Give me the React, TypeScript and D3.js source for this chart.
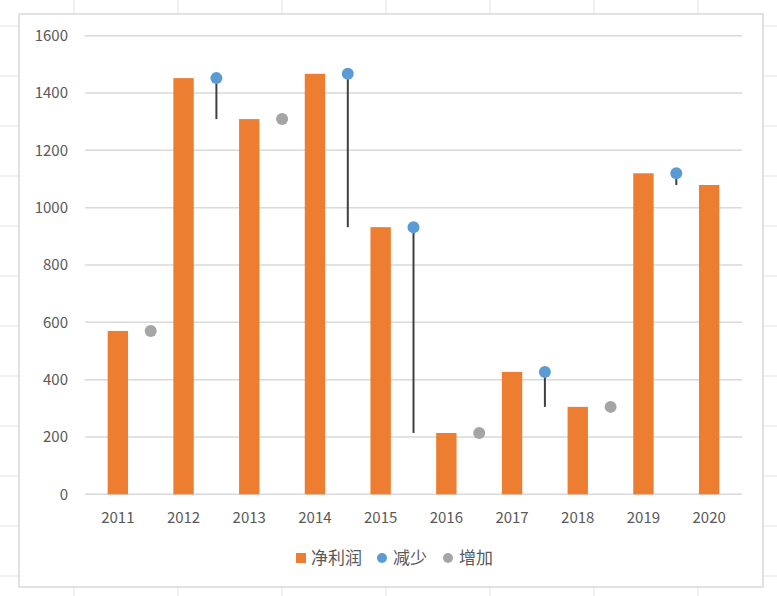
import React from "react";
import * as d3 from "d3";

const years = ["2011", "2012", "2013", "2014", "2015", "2016", "2017", "2018", "2019", "2020"];
const profit = [570, 1452, 1309, 1467, 932, 214, 427, 305, 1120, 1079];
const yTicks = [0, 200, 400, 600, 800, 1000, 1200, 1400, 1600];
const legendNames = ["净利润", "减少", "增加"];

const W = 777;
const H = 596;
const FONT = "'Noto Sans CJK SC', 'Noto Sans', sans-serif";

const App = () => {
  const x = d3.scaleBand().domain(years).range([85, 742]).paddingInner(0).paddingOuter(0);
  const y = d3.scaleLinear().domain([0, 1600]).range([494.3, 35.7]);
  const barW = x.bandwidth() * 0.31;

  // change markers sit on the boundary between one year and the next
  const steps = profit.slice(0, -1).map((v, i) => ({
    from: v,
    to: profit[i + 1],
    down: profit[i + 1] < v,
    cx: (x(years[i]) as number) + x.bandwidth(),
  }));

  // spreadsheet cells behind the chart
  const colLines = d3.range(74, W, 104);
  const rowLines = d3.range(26, H, 50);

  return (
    <svg width={W} height={H} style={{ position: "absolute", left: 0, top: 0, background: "#fff" }}>
      {colLines.map((cx) => (
        <line key={"c" + cx} x1={cx} x2={cx} y1={0} y2={H} stroke="#e3e3e3" />
      ))}
      {rowLines.map((ry) => (
        <line key={"r" + ry} x1={0} x2={W} y1={ry} y2={ry} stroke="#e3e3e3" />
      ))}
      <rect x={19} y={14} width={744} height={573} fill="#fff" stroke="#d9d9d9" strokeWidth={1.5} />

      {yTicks.map((t) => (
        <g key={t}>
          <line x1={85} x2={742} y1={y(t)} y2={y(t)} stroke="#d9d9d9" strokeWidth={1.5} />
          <text x={68} y={y(t)} dy="0.35em" textAnchor="end" fontSize={15} fill="#595959" fontFamily={FONT}>
            {t}
          </text>
        </g>
      ))}

      {years.map((yr, i) => (
        <g key={yr}>
          <rect
            x={(x(yr) as number) + x.bandwidth() / 2 - barW / 2}
            y={y(profit[i])}
            width={barW}
            height={y(0) - y(profit[i])}
            fill="#ED7D31"
          />
          <text
            x={(x(yr) as number) + x.bandwidth() / 2}
            y={518}
            dy="0.35em"
            textAnchor="middle"
            fontSize={15}
            fill="#595959"
            fontFamily={FONT}
          >
            {yr}
          </text>
        </g>
      ))}

      {steps.map((s, i) =>
        s.down ? (
          <g key={i}>
            <line x1={s.cx} x2={s.cx} y1={y(s.from)} y2={y(s.to)} stroke="#404040" strokeWidth={2} />
            <circle cx={s.cx} cy={y(s.from)} r={6} fill="#5B9BD5" />
          </g>
        ) : (
          <circle key={i} cx={s.cx} cy={y(s.from)} r={6} fill="#A5A5A5" />
        )
      )}

      <g fontFamily={FONT} fontSize={17} fill="#595959">
        <rect x={296} y={553} width={10} height={10} fill="#ED7D31" />
        <text x={311} y={558} dy="0.35em">{legendNames[0]}</text>
        <circle cx={382} cy={558} r={5} fill="#5B9BD5" />
        <text x={393} y={558} dy="0.35em">{legendNames[1]}</text>
        <circle cx={448} cy={558} r={5} fill="#A5A5A5" />
        <text x={459} y={558} dy="0.35em">{legendNames[2]}</text>
      </g>
    </svg>
  );
};

export default App;
